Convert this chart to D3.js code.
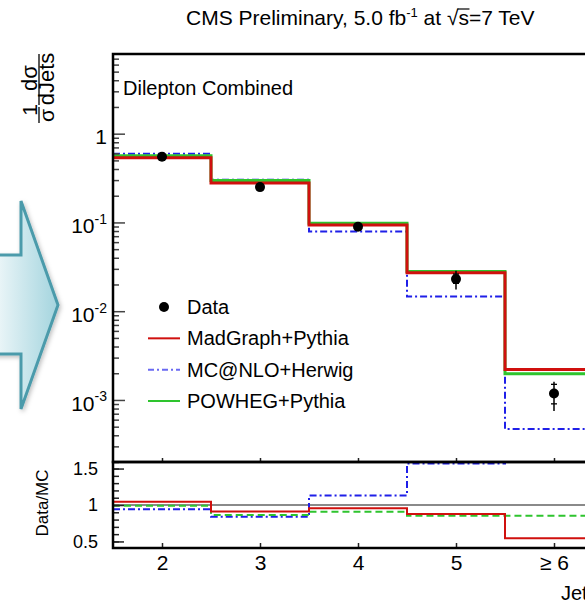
<!DOCTYPE html>
<html>
<head>
<meta charset="utf-8">
<script src="https://cdn.jsdelivr.net/npm/d3@7"></script>
<style>
  body { margin: 0; background: #fff; }
  svg { display: block; font-family: "Liberation Sans", Arial, Helvetica, sans-serif; }
</style>
</head>
<body>
<div id="chart"></div>
<script>
// jet multiplicity bins
const binCenters = [2, 3, 4, 5, 6];
const binLabels = ["2", "3", "4", "5", "\u2265 6"];
const binEdges = [1.5, 2.5, 3.5, 4.5, 5.5, 6.5];

// normalised cross section 1/sigma dsigma/dJets
const dataVals = [0.55, 0.25, 0.0895, 0.023, 0.00118];
const dataStatLo = [0.53, 0.243, 0.086, 0.0206, 0.000904];
const dataStatHi = [0.57, 0.257, 0.093, 0.0262, 0.0015];
const dataTotLo = [0.52, 0.238, 0.084, 0.0176, 0.000753];
const dataTotHi = [0.58, 0.262, 0.095, 0.0285, 0.0016];

const madgraph = [0.536, 0.278, 0.0935, 0.0271, 0.0022];
const mcatnlo = [0.595, 0.303, 0.079, 0.0146, 0.00047];
const powheg = [0.565, 0.296, 0.098, 0.028, 0.00197];

// Data/MC ratios
const ratioMadgraph = [1.045, 0.91, 0.955, 0.877, 0.543];
const ratioMcatnlo = [0.94, 0.84, 1.13, 1.57, 2.5];
const ratioPowheg = [0.99, 0.863, 0.908, 0.853, 0.853];

const yMajor = [1e-3, 1e-2, 1e-1, 1];
const ratioMajor = [0.5, 1, 1.5];

const W = 585, H = 605;
const pLeft = 113, pRight = 603, pTop = 54, pMid = 462, pBottom = 548;

const svg = d3.select("#chart").append("svg")
  .attr("width", W).attr("height", H);

const defs = svg.append("defs");
const grad = defs.append("linearGradient").attr("id", "arrowGrad")
  .attr("x1", "0%").attr("x2", "100%").attr("y1", "0%").attr("y2", "0%");
grad.append("stop").attr("offset", "0%").attr("stop-color", "#eef7f9");
grad.append("stop").attr("offset", "100%").attr("stop-color", "#a3d4de");
const shadow = defs.append("filter").attr("id", "shadow")
  .attr("x", "-20%").attr("y", "-20%").attr("width", "150%").attr("height", "150%");
shadow.append("feDropShadow").attr("dx", 1.5).attr("dy", 2).attr("stdDeviation", 2)
  .attr("flood-color", "#000").attr("flood-opacity", 0.25);

// decorative arrow on the left
svg.append("path")
  .attr("d", "M-5,255 L21,255 L21,201 L58,305 L21,409 L21,354 L-5,354 Z")
  .attr("fill", "url(#arrowGrad)")
  .attr("stroke", "#4c9bab")
  .attr("stroke-width", 3)
  .attr("stroke-linejoin", "miter")
  .attr("filter", "url(#shadow)");

defs.append("clipPath").attr("id", "clipTop")
  .append("rect").attr("x", pLeft).attr("y", pTop).attr("width", pRight - pLeft).attr("height", pMid - pTop);
defs.append("clipPath").attr("id", "clipRatio")
  .append("rect").attr("x", pLeft).attr("y", pMid).attr("width", pRight - pLeft).attr("height", pBottom - pMid);

// scales
const x = d3.scaleLinear().domain([1.5, 6.5]).range([pLeft, pRight]);
const y = d3.scaleLog().domain([2e-4, 7.9]).range([pMid, pTop]);
const yr = d3.scaleLinear().domain([0.41, 1.59]).range([pBottom, pMid]);

function stepPoints(vals) {
  const pts = [];
  vals.forEach((v, i) => {
    pts.push([binEdges[i], v]);
    pts.push([binEdges[i + 1], v]);
  });
  return pts;
}

const lineTop = d3.line().x(d => x(d[0])).y(d => y(d[1]));
const lineRatio = d3.line().x(d => x(d[0])).y(d => yr(d[1]));

const red = "#d0100e", green = "#2ec42e", blue = "#1f1fe8";

// top panel histograms
const gTop = svg.append("g").attr("clip-path", "url(#clipTop)");
gTop.append("path").attr("d", lineTop(stepPoints(mcatnlo)))
  .attr("fill", "none").attr("stroke", blue).attr("stroke-width", 2)
  .attr("stroke-dasharray", "7,3,2,3");
gTop.append("path").attr("d", lineTop(stepPoints(powheg)))
  .attr("fill", "none").attr("stroke", green).attr("stroke-width", 3);
gTop.append("path").attr("d", lineTop(stepPoints(madgraph)))
  .attr("fill", "none").attr("stroke", red).attr("stroke-width", 3);

// data points
const pts = gTop.selectAll(".pt").data(dataVals).enter().append("g");
pts.append("line")
  .attr("x1", (d, i) => x(binCenters[i])).attr("x2", (d, i) => x(binCenters[i]))
  .attr("y1", (d, i) => y(dataTotLo[i])).attr("y2", (d, i) => y(dataTotHi[i]))
  .attr("stroke", "#000").attr("stroke-width", 1.5);
pts.append("line")
  .attr("x1", (d, i) => x(binCenters[i]) - 3).attr("x2", (d, i) => x(binCenters[i]) + 3)
  .attr("y1", (d, i) => y(dataStatHi[i])).attr("y2", (d, i) => y(dataStatHi[i]))
  .attr("stroke", "#000").attr("stroke-width", 1.3);
pts.append("line")
  .attr("x1", (d, i) => x(binCenters[i]) - 3).attr("x2", (d, i) => x(binCenters[i]) + 3)
  .attr("y1", (d, i) => y(dataStatLo[i])).attr("y2", (d, i) => y(dataStatLo[i]))
  .attr("stroke", "#000").attr("stroke-width", 1.3);
pts.append("circle")
  .attr("cx", (d, i) => x(binCenters[i])).attr("cy", d => y(d))
  .attr("r", 5).attr("fill", "#000");

// ratio panel
const gR = svg.append("g").attr("clip-path", "url(#clipRatio)");
gR.append("line").attr("x1", pLeft).attr("x2", pRight)
  .attr("y1", yr(1)).attr("y2", yr(1))
  .attr("stroke", "#8a8a8a").attr("stroke-width", 2);
gR.append("path").attr("d", lineRatio(stepPoints(ratioMcatnlo)))
  .attr("fill", "none").attr("stroke", blue).attr("stroke-width", 2)
  .attr("stroke-dasharray", "7,3,2,3");
gR.append("path").attr("d", lineRatio(stepPoints(ratioPowheg)))
  .attr("fill", "none").attr("stroke", green).attr("stroke-width", 2)
  .attr("stroke-dasharray", "7,4");
gR.append("path").attr("d", lineRatio(stepPoints(ratioMadgraph)))
  .attr("fill", "none").attr("stroke", red).attr("stroke-width", 2);

// axes: top panel (log)
const yMinor = [];
[1e-4, 1e-3, 1e-2, 1e-1, 1].forEach(dec => {
  for (let k = 2; k <= 9; k++) {
    const v = dec * k;
    if (v >= 2e-4 && v <= 7.9) yMinor.push(v);
  }
});
svg.append("g").attr("transform", `translate(${pLeft},0)`)
  .call(d3.axisLeft(y).tickValues(yMinor).tickSize(-6).tickFormat(""))
  .call(g => g.select(".domain").remove())
  .selectAll("line").attr("stroke", "#444").attr("stroke-width", 1.5);

const yAx = svg.append("g").attr("transform", `translate(${pLeft},0)`)
  .call(d3.axisLeft(y).tickValues(yMajor).tickSize(-12).tickPadding(6).tickFormat(""))
  .call(g => g.select(".domain").remove());
yAx.selectAll("line").attr("stroke", "#444").attr("stroke-width", 1.5);
yAx.selectAll(".tick text").each(function(d) {
  const t = d3.select(this).attr("font-size", 21).attr("fill", "#000")
    .attr("font-family", null).attr("dy", "0.48em");
  if (d === 1) {
    t.text("1");
  } else {
    t.append("tspan").text("10");
    t.append("tspan").attr("font-size", 14).attr("dy", "-0.65em")
      .text(String(Math.round(Math.log10(d))));
  }
});

// axes: ratio panel
const rMinor = d3.range(0.5, 1.55, 0.1).map(v => +v.toFixed(1));
svg.append("g").attr("transform", `translate(${pLeft},0)`)
  .call(d3.axisLeft(yr).tickValues(rMinor).tickSize(-6).tickFormat(""))
  .call(g => g.select(".domain").remove())
  .selectAll("line").attr("stroke", "#222").attr("stroke-width", 1.5);
const rAx = svg.append("g").attr("transform", `translate(${pLeft},0)`)
  .call(d3.axisLeft(yr).tickValues(ratioMajor).tickSize(-11).tickPadding(15)
    .tickFormat(d => String(d)))
  .call(g => g.select(".domain").remove());
rAx.selectAll("line").attr("stroke", "#222").attr("stroke-width", 1.5);
rAx.selectAll("text").attr("font-size", 18).attr("font-family", null).attr("fill", "#000");

// x axes
const xAx = svg.append("g").attr("transform", `translate(0,${pBottom})`)
  .call(d3.axisBottom(x).tickValues(binCenters).tickSize(-5).tickPadding(7)
    .tickFormat((d, i) => binLabels[i]))
  .call(g => g.select(".domain").remove());
xAx.selectAll("line").attr("stroke", "#222").attr("stroke-width", 1.5);
xAx.selectAll("text").attr("font-size", 21).attr("font-family", null).attr("fill", "#000");

svg.append("g").attr("transform", `translate(0,${pMid})`)
  .call(d3.axisBottom(x).tickValues(binCenters).tickSize(-4).tickFormat(""))
  .call(g => g.select(".domain").remove())
  .selectAll("line").attr("stroke", "#222").attr("stroke-width", 1.5);

// frames
svg.append("rect").attr("x", pLeft).attr("y", pTop).attr("width", pRight - pLeft).attr("height", pMid - pTop)
  .attr("fill", "none").attr("stroke", "#000").attr("stroke-width", 2.5);
svg.append("rect").attr("x", pLeft).attr("y", pMid).attr("width", pRight - pLeft).attr("height", pBottom - pMid)
  .attr("fill", "none").attr("stroke", "#000").attr("stroke-width", 2.5);

// title
const title = svg.append("text").attr("x", 186).attr("y", 25).attr("font-size", 21).attr("fill", "#000");
title.append("tspan").text("CMS Preliminary, 5.0 fb");
title.append("tspan").attr("font-size", 13).attr("dy", -8).text("-1");
title.append("tspan").attr("dy", 8).text(" at ");
title.append("tspan").text("\u221A");
title.append("tspan").text("s=7 TeV");
const full = title.text();
const sIdx = full.indexOf("\u221A") + 1;
const sStart = title.node().getStartPositionOfChar(sIdx);
const sEnd = title.node().getEndPositionOfChar(sIdx);
svg.append("line").attr("x1", sStart.x - 1).attr("x2", sEnd.x + 0.5)
  .attr("y1", 9).attr("y2", 9).attr("stroke", "#000").attr("stroke-width", 1.2);

// panel label
svg.append("text").attr("x", 123).attr("y", 95).attr("font-size", 20).text("Dilepton Combined");

// y axis title: 1/sigma dsigma/dJets (rotated)
function rotText(txt, bx, cy, size) {
  svg.append("text").attr("transform", `translate(${bx},${cy}) rotate(-90)`)
    .attr("text-anchor", "middle").attr("font-size", size).text(txt);
}
rotText("d\u03C3", 37, 78, 22);
rotText("dJets", 54, 79, 22);
svg.append("line").attr("x1", 39).attr("x2", 39).attr("y1", 54).attr("y2", 105)
  .attr("stroke", "#000").attr("stroke-width", 1.3);
rotText("1", 37, 110, 21);
rotText("\u03C3", 54, 115.5, 21);
svg.append("line").attr("x1", 39).attr("x2", 39).attr("y1", 107).attr("y2", 123)
  .attr("stroke", "#000").attr("stroke-width", 1.3);

rotText("Data/MC", 48, 503, 17);

// x axis title
svg.append("text").attr("x", 561).attr("y", 600).attr("font-size", 20).text("Jets");

// legend
const legendItems = [
  { name: "Data", type: "marker" },
  { name: "MadGraph+Pythia", type: "line", color: red, dash: null },
  { name: "MC@NLO+Herwig", type: "line", color: "#6a6af2", dash: "6,3,2,3" },
  { name: "POWHEG+Pythia", type: "line", color: green, dash: null }
];
const legY = d3.scalePoint().domain(legendItems.map(d => d.name)).range([307, 401]);
const leg = svg.append("g");
legendItems.forEach(it => {
  const cy = legY(it.name);
  if (it.type === "marker") {
    leg.append("circle").attr("cx", 164).attr("cy", cy).attr("r", 5).attr("fill", "#000");
  } else {
    leg.append("line").attr("x1", 148).attr("x2", 180).attr("y1", cy).attr("y2", cy)
      .attr("stroke", it.color).attr("stroke-width", 2)
      .attr("stroke-dasharray", it.dash);
  }
  leg.append("text").attr("x", 187).attr("y", cy + 7).attr("font-size", 20).text(it.name);
});
</script>
</body>
</html>
